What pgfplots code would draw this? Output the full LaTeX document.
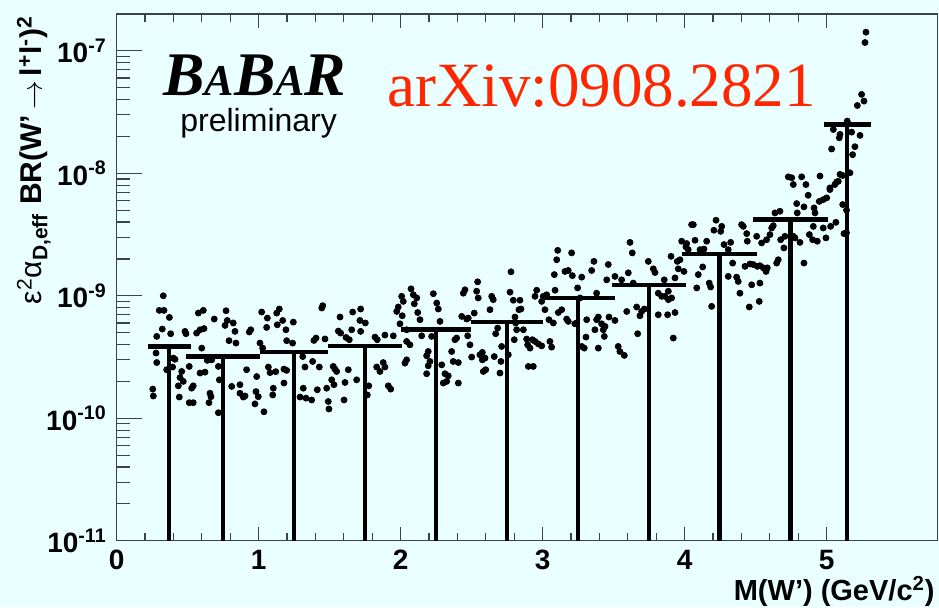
\documentclass[border=0pt]{standalone}
\usepackage{fontspec}
\setmainfont{Liberation Sans}
\newfontfamily\timesfont{Liberation Serif}
\usepackage{pgfplots}
\usepackage{pgfplotstable}
\pgfplotsset{compat=1.18}
\definecolor{bgc}{RGB}{234,255,255}
\definecolor{axc}{RGB}{60,66,76}
\definecolor{arxivred}{RGB}{255,38,0}

\pgfplotstableread{
x y ex ey
0.37 3.86e-10 0.15 3.81e-10
0.75 3.19e-10 0.26 3.14e-10
1.25 3.47e-10 0.24 3.42e-10
1.75 3.91e-10 0.26 3.86e-10
2.25 5.3e-10 0.245 5.25e-10
2.75 6.1e-10 0.255 6.05e-10
3.25 9.6e-10 0.26 9.55e-10
3.75 1.22e-9 0.26 1.215e-9
4.245 2.2e-9 0.265 2.195e-9
4.745 4.19e-9 0.265 4.185e-9
5.145 2.5e-8 0.165 2.4995e-8
}\bins

\pgfplotstableread{
x y
0.328 1.0e-9
0.300 7.6e-10
0.333 7.6e-10
0.371 6.66e-10
0.321 5.35e-10
0.380 4.9e-10
0.282 4.66e-10
0.481 5.12e-10
0.488 4.9e-10
0.575 7.23e-10
0.610 7.6e-10
0.687 6.46e-10
0.770 7.55e-10
0.779 6.29e-10
0.763 5.73e-10
0.821 6.0e-10
0.833 5.12e-10
0.791 4.3e-10
0.840 4.11e-10
0.563 4.96e-10
0.587 5.28e-10
0.615 5.4e-10
0.599 3.74e-10
0.277 3.41e-10
0.282 2.85e-10
0.399 3.1e-10
0.411 3.03e-10
0.458 2.41e-10
0.446 2.15e-10
0.434 1.84e-10
0.469 2.0e-10
0.539 1.84e-10
0.528 1.76e-10
0.511 2.65e-10
0.441 1.49e-10
0.511 1.34e-10
0.539 1.34e-10
0.587 2.34e-10
0.622 2.38e-10
0.657 1.6e-10
0.664 1.5e-10
0.650 1.34e-10
0.716 2.65e-10
0.723 2.06e-10
0.716 1.11e-10
0.669 3.0e-10
0.638 2.97e-10
0.254 1.73e-10
0.258 1.52e-10
0.352 2.49e-10
0.394 2.62e-10
0.810 1.82e-10
0.868 1.88e-10
0.868 1.6e-10
0.892 1.49e-10
0.904 1.52e-10
0.915 2.49e-10
0.986 2.19e-10
0.981 1.65e-10
0.974 1.31e-10
0.997 1.5e-10
1.037 1.13e-10
0.944 5.28e-10
0.934 5.06e-10
1.009 4.11e-10
1.028 3.74e-10
1.021 7.37e-10
1.061 6.58e-10
1.056 5.52e-10
1.127 7.23e-10
1.145 7.8e-10
1.131 5.8e-10
1.169 6.29e-10
1.192 5.28e-10
1.244 6.1e-10
1.197 4.3e-10
1.239 4.11e-10
1.068 2.62e-10
1.080 2.36e-10
1.120 2.4e-10
1.103 1.76e-10
1.099 1.55e-10
1.178 2.52e-10
1.197 2.46e-10
1.178 1.94e-10
1.310 3.19e-10
1.314 1.76e-10
1.326 2.62e-10
1.291 1.49e-10
1.333 1.46e-10
1.373 1.41e-10
1.380 2.91e-10
1.427 2.62e-10
1.413 1.71e-10
1.389 4.32e-10
1.404 4.52e-10
1.444 7.95e-10
1.451 8.3e-10
1.467 4.44e-10
1.479 1.76e-10
1.490 1.37e-10
1.495 1.19e-10
1.514 2.06e-10
1.525 2.65e-10
1.537 2.52e-10
1.549 2.41e-10
1.530 1.88e-10
1.601 1.41e-10
1.631 2.49e-10
1.608 1.96e-10
1.690 2.06e-10
1.573 6.71e-10
1.561 5.15e-10
1.577 4.96e-10
1.615 4.57e-10
1.638 4.38e-10
1.655 5.28e-10
1.662 7.37e-10
1.718 7.8e-10
1.713 6.29e-10
1.751 6.0e-10
1.718 5.12e-10
1.819 4.6e-10
1.835 4.38e-10
1.889 4.78e-10
1.948 4.71e-10
1.877 2.85e-10
1.889 2.62e-10
1.854 2.41e-10
1.831 2.62e-10
1.913 1.84e-10
1.930 1.73e-10
1.775 1.84e-10
1.765 1.55e-10
1.972 7.45e-10
1.983 8.1e-10
2.007 9.9e-10
2.042 5.28e-10
2.042 4.24e-10
2.042 3.0e-10
2.018 9.0e-10
2.073 1.14e-9
2.089 1.02e-9
2.113 9.6e-10
2.096 8.6e-10
2.120 7.3e-10
2.136 6.38e-10
2.011 6.87e-10
1.995 5.91e-10
2.065 3.98e-10
2.030 2.82e-10
2.148 4.71e-10
2.183 3.24e-10
2.194 3.51e-10
2.206 2.91e-10
2.194 2.68e-10
2.183 2.31e-10
2.218 4.66e-10
2.230 1.04e-9
2.254 8.73e-10
2.265 7.8e-10
2.277 6.18e-10
2.289 2.73e-10
2.312 2.31e-10
2.335 2.22e-10
2.300 1.94e-10
2.324 2.0e-10
2.359 3.51e-10
2.370 2.91e-10
2.406 2.85e-10
2.382 4.38e-10
2.394 4.52e-10
2.406 1.94e-10
2.441 1.05e-9
2.453 1.12e-9
2.430 6.79e-10
2.465 6.46e-10
2.476 6.58e-10
2.518 7.23e-10
2.535 1.09e-9
2.546 9.6e-10
2.542 1.30e-9
2.500 3.16e-10
2.488 3.98e-10
2.472 4.71e-10
2.558 3.3e-10
2.575 3.45e-10
2.594 3.1e-10
2.575 3.0e-10
2.599 2.49e-10
2.582 2.41e-10
2.629 7.7e-10
2.641 9.9e-10
2.652 9.3e-10
2.659 3.19e-10
2.669 4.9e-10
2.683 5.45e-10
2.711 3.86e-10
2.699 2.34e-10
2.706 2.91e-10
2.758 3.3e-10
2.777 1.57e-9
2.770 1.07e-9
2.793 9.2e-10
2.840 9.2e-10
2.833 7.7e-10
2.847 7.8e-10
2.805 6.71e-10
2.810 6.0e-10
2.800 4.38e-10
2.817 5.28e-10
2.864 5.28e-10
2.887 4.44e-10
2.894 3.98e-10
2.911 3.74e-10
2.927 4.38e-10
2.946 4.24e-10
2.969 4.05e-10
2.993 3.9e-10
2.899 2.65e-10
2.934 2.65e-10
2.958 1.11e-9
2.946 9.9e-10
2.993 9.0e-10
3.004 9.9e-10
3.028 1.02e-9
3.016 7.7e-10
3.044 6.38e-10
3.075 6.0e-10
3.051 4.24e-10
3.063 3.81e-10
3.087 1.11e-9
3.082 1.49e-9
3.106 2.35e-9
3.099 1.97e-9
3.157 1.58e-9
3.180 1.61e-9
3.204 2.24e-9
3.209 1.46e-9
3.246 1.16e-9
3.275 1.42e-9
3.263 9.6e-10
3.110 7.3e-10
3.134 7.7e-10
3.169 6.46e-10
3.180 6.18e-10
3.227 5.91e-10
3.239 6.0e-10
3.310 6.38e-10
3.380 6.38e-10
3.345 1.61e-9
3.361 1.91e-9
3.380 1.05e-9
3.392 6.71e-10
3.415 5.91e-10
3.427 5.28e-10
3.439 5.62e-10
3.368 5.28e-10
3.434 4.66e-10
3.392 3.74e-10
3.305 4.6e-10
3.293 3.74e-10
3.275 3.86e-10
3.462 1.8e-9
3.451 1.35e-9
3.509 1.44e-9
3.556 1.35e-9
3.603 1.54e-9
3.638 1.27e-9
3.615 2.73e-9
3.631 2.24e-9
3.744 1.91e-9
3.779 1.66e-9
3.791 1.55e-9
3.856 1.35e-9
3.904 2.1e-9
3.662 8.1e-10
3.697 7.45e-10
3.716 7.8e-10
3.685 6.87e-10
3.592 7.45e-10
3.467 6.71e-10
3.509 6.29e-10
3.532 3.86e-10
3.544 3.51e-10
3.575 3.26e-10
3.669 4.9e-10
3.814 7.0e-10
3.814 1.05e-9
3.861 9.9e-10
3.885 9.3e-10
3.908 9.6e-10
3.880 7.0e-10
3.920 4.52e-10
3.932 7.3e-10
3.885 1.09e-9
3.838 9.9e-10
3.932 1.4e-9
3.955 1.66e-9
3.995 1.58e-9
3.948 1.91e-9
3.967 1.97e-9
3.979 2.79e-9
4.014 2.67e-9
4.009 2.51e-9
4.025 2.38e-9
4.073 2.84e-9
4.108 2.38e-9
4.136 2.41e-9
4.155 2.79e-9
4.049 3.81e-9
4.061 3.81e-9
4.085 1.16e-9
4.096 1.49e-9
4.127 1.72e-9
4.173 1.27e-9
4.183 1.18e-9
4.190 8.2e-10
4.206 3.43e-9
4.221 4.14e-9
4.261 3.69e-9
4.254 3.36e-9
4.277 2.62e-9
4.324 2.73e-9
4.307 2.38e-9
4.338 1.85e-9
4.307 1.44e-9
4.366 1.42e-9
4.377 1.31e-9
4.389 1.05e-9
4.401 3.81e-9
4.413 3.69e-9
4.437 3.22e-9
4.441 2.79e-9
4.425 1.74e-9
4.460 1.82e-9
4.483 1.8e-9
4.512 1.74e-9
4.530 1.76e-9
4.554 1.69e-9
4.573 1.58e-9
4.582 1.69e-9
4.472 1.23e-9
4.530 1.27e-9
4.455 8.1e-10
4.525 9.0e-10
4.507 3.06e-9
4.542 2.7e-9
4.577 2.87e-9
4.601 3.16e-9
4.613 3.58e-9
4.624 3.74e-9
4.648 1.85e-9
4.659 1.97e-9
4.636 4.75e-9
4.671 4.9e-9
4.676 2.87e-9
4.699 2.46e-9
4.706 3.06e-9
4.765 3.06e-9
4.777 2.97e-9
4.812 2.73e-9
4.840 1.85e-9
4.793 4.75e-9
4.789 5.66e-9
4.840 5.32e-9
4.870 6.62e-9
4.911 5.22e-9
4.918 4.75e-9
4.948 5.9e-9
4.976 6.1e-9
5.000 6.3e-9
5.023 7.37e-9
5.058 8.1e-9
5.070 8.5e-9
5.094 9.8e-9
5.113 5.56e-9
5.122 3.22e-9
5.164 1.01e-8
4.730 9.36e-9
4.754 9.2e-9
4.765 8.1e-9
4.824 9.36e-9
4.854 8.1e-9
4.953 9.5e-9
4.995 2.97e-9
4.906 3.69e-9
4.901 2.87e-9
4.878 3.16e-9
4.934 2.79e-9
4.976 3.58e-9
5.028 3.69e-9
5.065 3.98e-9
5.140 3.27e-9
5.140 5.0e-9
5.277 1.42e-7
5.270 1.17e-7
5.246 4.41e-8
5.263 3.89e-8
5.216 3.58e-8
5.145 2.67e-8
5.047 2.28e-8
5.094 2.08e-8
5.089 1.95e-8
5.235 2.04e-8
5.176 2.17e-8
5.199 1.65e-8
5.035 1.58e-8
5.183 1.42e-8
5.113 9.6e-9
5.082 8.6e-9
5.023 7.6e-9
}\scat

\begin{document}
\begin{tikzpicture}
\fill[bgc] (-58.35pt,-33.15pt) rectangle (411.15pt,270.35pt);
\begin{axis}[
  at={(0,0)}, anchor=south west,
  scale only axis, width=410.5pt, height=263.35pt,
  xmin=0, xmax=5.782, ymin=1e-11, ymax=2e-7,
  ymode=log,
  axis line style={draw=axc, line width=0.6pt},
  tick style={draw=axc, line width=0.6pt},
  xtick={0,1,2,3,4,5}, xticklabels={0,1,2,3,4,5},
  minor x tick num=4,
  ytick={1e-11,1e-10,1e-9,1e-8,1e-7},
  yticklabels={10\textsuperscript{-11},10\textsuperscript{-10},10\textsuperscript{-9},10\textsuperscript{-8},10\textsuperscript{-7}},
  minor ytick={2e-11,3e-11,4e-11,5e-11,6e-11,7e-11,8e-11,9e-11,
               2e-10,3e-10,4e-10,5e-10,6e-10,7e-10,8e-10,9e-10,
               2e-9,3e-9,4e-9,5e-9,6e-9,7e-9,8e-9,9e-9,
               2e-8,3e-8,4e-8,5e-8,6e-8,7e-8,8e-8,9e-8},
  xtick pos=both, ytick pos=left,
  tick align=inside,
  major tick length=12.5pt, minor tick length=6.5pt,
  xtick style={/pgfplots/major tick length=7pt,/pgfplots/minor tick length=4pt},
  ticklabel style={font=\bfseries\fontsize{14}{14}\selectfont},
  yticklabel style={anchor=east, inner sep=0pt, xshift=-4.8pt},
  xticklabel style={anchor=north, inner sep=0pt, yshift=-4.6pt},
  xlabel={\textbf{M(W') (GeV/c\textsuperscript{2})}},
  ylabel={ε\textsuperscript{2}α\textsubscript{\bfseries D,eff}\ \textbf{BR(W'\,$\rightarrow$\,l\textsuperscript{+}l\textsuperscript{-})\textsuperscript{2}}},
  every axis x label/.style={at={(axis description cs:0.9967,-0.1135)}, anchor=base east, inner sep=0pt, font=\fontsize{14.5}{14.5}\selectfont},
  every axis y label/.style={at={(axis description cs:-0.0910,0.998)}, rotate=90, anchor=base east, inner sep=0pt, font=\fontsize{15}{15}\selectfont},
]
\addplot[only marks, mark=*, mark size=1.5pt, black] table[x=x, y=y] {\scat};
\addplot[draw=none, forget plot,
  error bars/.cd, x dir=both, x explicit, y dir=minus, y explicit,
  error mark=none, error bar style={draw=black, line width=2.1pt, solid}]
  table[x=x, y=y, x error plus=ex, x error minus=ex, y error minus=ey] {\bins};
\end{axis}
\node[anchor=base west, inner sep=0pt] at (23.15pt,222.85pt)
  {\timesfont\bfseries\itshape\fontsize{31}{31}\selectfont B{\fontsize{22}{22}\selectfont A}B{\fontsize{22}{22}\selectfont A}R};
\node[anchor=base west, inner sep=0pt] at (31.65pt,204.5pt)
  {\fontsize{16}{16}\selectfont preliminary};
\node[anchor=base west, inner sep=0pt, text=arxivred] at (135pt,217.35pt)
  {\timesfont\fontsize{31.5}{31.5}\selectfont arXiv:0908.2821};
\pgfresetboundingbox
\path[use as bounding box] (-58.35pt,-33.15pt) rectangle (411.15pt,270.35pt);
\end{tikzpicture}
\end{document}
